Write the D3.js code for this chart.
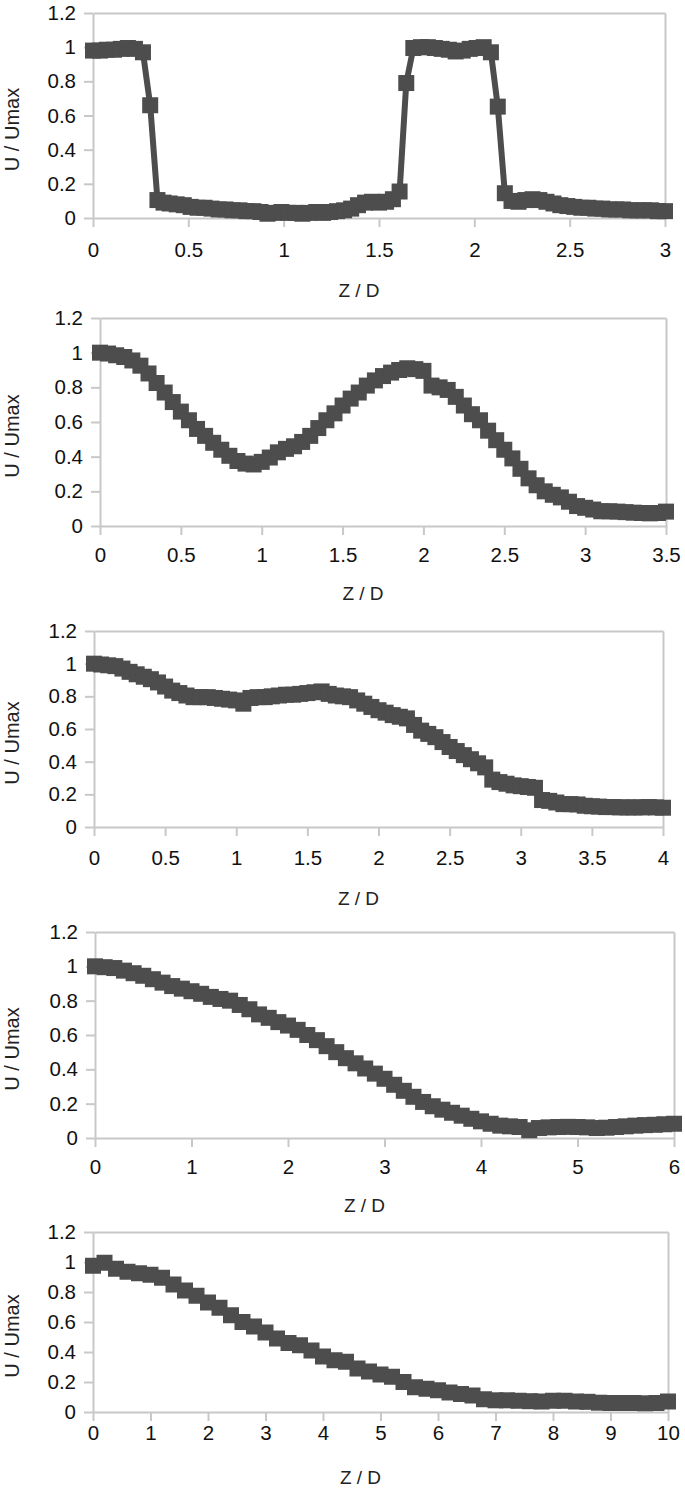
<!DOCTYPE html>
<html>
<head>
<meta charset="utf-8">
<script src="https://cdn.jsdelivr.net/npm/d3@7"></script>
<style>
  body { margin: 0; background: #fff; }
  svg { display: block; }
</style>
</head>
<body>
<div id="chart"></div>
<script>
// Tick labels shared by all five plots
const yTicks = [0, 0.2, 0.4, 0.6, 0.8, 1, 1.2];
const p1Ticks = [0, 0.5, 1, 1.5, 2, 2.5, 3];
const p2Ticks = [0, 0.5, 1, 1.5, 2, 2.5, 3, 3.5];
const p3Ticks = [0, 0.5, 1, 1.5, 2, 2.5, 3, 3.5, 4];
const p4Ticks = [0, 1, 2, 3, 4, 5, 6];
const p5Ticks = [0, 1, 2, 3, 4, 5, 6, 7, 8, 9, 10];

// Plot 1 : Z/D and U/Umax
const p1Z = [0, 0.037, 0.073, 0.110, 0.146, 0.183, 0.220, 0.262, 0.300, 0.338,
  0.370, 0.402, 0.439, 0.476, 0.512, 0.549, 0.585, 0.622, 0.659, 0.695,
  0.732, 0.768, 0.805, 0.841, 0.878, 0.915, 0.951, 0.988, 1.024, 1.061,
  1.098, 1.134, 1.171, 1.207, 1.244, 1.280, 1.317, 1.354, 1.390, 1.427,
  1.463, 1.500, 1.537, 1.573, 1.608, 1.643, 1.680, 1.720, 1.756, 1.793,
  1.829, 1.866, 1.902, 1.939, 1.976, 2.012, 2.049, 2.087, 2.123, 2.160,
  2.195, 2.232, 2.268, 2.305, 2.341, 2.378, 2.415, 2.451, 2.488, 2.524,
  2.561, 2.598, 2.634, 2.671, 2.707, 2.744, 2.780, 2.817, 2.854, 2.890,
  2.927, 2.963, 3.000];
const p1U = [0.98, 0.98, 0.985, 0.985, 0.99, 0.995, 0.99, 0.97, 0.66, 0.105,
  0.09, 0.085, 0.08, 0.075, 0.065, 0.06, 0.06, 0.055, 0.05, 0.05,
  0.045, 0.045, 0.04, 0.04, 0.035, 0.025, 0.03, 0.035, 0.03, 0.03,
  0.025, 0.03, 0.035, 0.03, 0.035, 0.04, 0.045, 0.055, 0.075, 0.09,
  0.095, 0.09, 0.095, 0.11, 0.155, 0.79, 0.995, 1.0, 1.0, 0.995,
  0.99, 0.985, 0.975, 0.98, 0.99, 0.995, 1.0, 0.97, 0.652, 0.145,
  0.1, 0.095, 0.105, 0.11, 0.105, 0.095, 0.085, 0.075, 0.07, 0.065,
  0.06, 0.06, 0.055, 0.055, 0.05, 0.05, 0.05, 0.045, 0.045, 0.045,
  0.045, 0.04, 0.04];

// Plot 2
const p2Z = [0, 0.05, 0.1, 0.15, 0.2, 0.25, 0.3, 0.35, 0.4, 0.45,
  0.5, 0.55, 0.6, 0.65, 0.7, 0.75, 0.8, 0.85, 0.9, 0.95,
  1, 1.05, 1.1, 1.15, 1.2, 1.25, 1.3, 1.35, 1.4, 1.45,
  1.5, 1.55, 1.6, 1.65, 1.7, 1.75, 1.8, 1.85, 1.9, 1.95,
  2, 2.05, 2.1, 2.15, 2.2, 2.25, 2.3, 2.35, 2.4, 2.45,
  2.5, 2.55, 2.6, 2.65, 2.7, 2.75, 2.8, 2.85, 2.9, 2.95,
  3, 3.05, 3.1, 3.15, 3.2, 3.25, 3.3, 3.35, 3.4, 3.45, 3.5];
const p2U = [1.0, 0.995, 0.985, 0.975, 0.955, 0.925, 0.88, 0.825, 0.77, 0.715,
  0.66, 0.61, 0.56, 0.52, 0.48, 0.44, 0.405, 0.375, 0.36, 0.355,
  0.37, 0.395, 0.425, 0.445, 0.46, 0.485, 0.52, 0.565, 0.61, 0.65,
  0.695, 0.735, 0.77, 0.81, 0.84, 0.865, 0.885, 0.9, 0.91, 0.905,
  0.895, 0.81, 0.8, 0.785, 0.745, 0.695, 0.645, 0.61, 0.55, 0.495,
  0.44, 0.39, 0.33, 0.275, 0.235, 0.2, 0.18, 0.165, 0.14, 0.115,
  0.105, 0.095, 0.085, 0.085, 0.083, 0.08, 0.077, 0.075, 0.073, 0.075, 0.083];

// Plot 3
const p3Z = [0, 0.05, 0.1, 0.15, 0.2, 0.25, 0.3, 0.35, 0.4, 0.45,
  0.5, 0.55, 0.6, 0.65, 0.7, 0.75, 0.8, 0.85, 0.9, 0.95,
  1, 1.05, 1.1, 1.15, 1.2, 1.25, 1.3, 1.35, 1.4, 1.45,
  1.5, 1.55, 1.6, 1.65, 1.7, 1.75, 1.8, 1.85, 1.9, 1.95,
  2, 2.05, 2.1, 2.15, 2.2, 2.25, 2.3, 2.35, 2.4, 2.45,
  2.5, 2.55, 2.6, 2.65, 2.7, 2.75, 2.8, 2.85, 2.9, 2.95,
  3, 3.05, 3.1, 3.15, 3.2, 3.25, 3.3, 3.35, 3.4, 3.45,
  3.5, 3.55, 3.6, 3.65, 3.7, 3.75, 3.8, 3.85, 3.9, 3.95, 4];
const p3U = [1.0, 0.995, 0.99, 0.985, 0.97, 0.95, 0.935, 0.92, 0.905, 0.885,
  0.86, 0.835, 0.82, 0.805, 0.795, 0.795, 0.795, 0.79, 0.785, 0.78,
  0.775, 0.755, 0.79, 0.795, 0.795, 0.8, 0.805, 0.81, 0.81, 0.815,
  0.82, 0.825, 0.83, 0.815, 0.805, 0.8, 0.795, 0.775, 0.755, 0.735,
  0.715, 0.7, 0.685, 0.675, 0.665, 0.625, 0.59, 0.57, 0.55, 0.52,
  0.49, 0.465, 0.44, 0.415, 0.39, 0.365, 0.29, 0.275, 0.265, 0.255,
  0.25, 0.245, 0.24, 0.165, 0.16, 0.15, 0.14, 0.14, 0.138, 0.13,
  0.127, 0.125, 0.122, 0.122, 0.12, 0.12, 0.12, 0.12, 0.122, 0.12, 0.118];

// Plot 4
const p4Z = [0, 0.1, 0.2, 0.3, 0.4, 0.5, 0.6, 0.7, 0.8, 0.9,
  1, 1.1, 1.2, 1.3, 1.4, 1.5, 1.6, 1.7, 1.8, 1.9,
  2, 2.1, 2.2, 2.3, 2.4, 2.5, 2.6, 2.7, 2.8, 2.9,
  3, 3.1, 3.2, 3.3, 3.4, 3.5, 3.6, 3.7, 3.8, 3.9,
  4, 4.1, 4.2, 4.3, 4.4, 4.5, 4.6, 4.7, 4.8, 4.9,
  5, 5.1, 5.2, 5.3, 5.4, 5.5, 5.6, 5.7, 5.8, 5.9, 6];
const p4U = [1.0, 0.995, 0.99, 0.975, 0.96, 0.945, 0.925, 0.905, 0.885, 0.87,
  0.855, 0.84, 0.822, 0.81, 0.8, 0.775, 0.75, 0.72, 0.7, 0.675,
  0.655, 0.63, 0.6, 0.57, 0.535, 0.5, 0.465, 0.435, 0.405, 0.375,
  0.345, 0.31, 0.275, 0.24, 0.21, 0.185, 0.165, 0.147, 0.13, 0.112,
  0.097, 0.083, 0.072, 0.068, 0.064, 0.045, 0.058, 0.062, 0.064, 0.065,
  0.064, 0.062, 0.058, 0.06, 0.064, 0.068, 0.072, 0.075, 0.077, 0.08, 0.083];

// Plot 5
const p5Z = [0, 0.2, 0.4, 0.6, 0.8, 1, 1.2, 1.4, 1.6, 1.8,
  2, 2.2, 2.4, 2.6, 2.8, 3, 3.2, 3.4, 3.6, 3.8,
  4, 4.2, 4.4, 4.6, 4.8, 5, 5.2, 5.4, 5.6, 5.8,
  6, 6.2, 6.4, 6.6, 6.8, 7, 7.2, 7.4, 7.6, 7.8,
  8, 8.2, 8.4, 8.6, 8.8, 9, 9.2, 9.4, 9.6, 9.8, 10];
const p5U = [0.975, 0.995, 0.955, 0.935, 0.925, 0.915, 0.895, 0.85, 0.81, 0.775,
  0.73, 0.695, 0.645, 0.6, 0.57, 0.53, 0.49, 0.46, 0.445, 0.41,
  0.37, 0.345, 0.335, 0.29, 0.27, 0.25, 0.235, 0.2, 0.165, 0.155,
  0.145, 0.13, 0.12, 0.11, 0.085, 0.078, 0.078, 0.075, 0.072, 0.07,
  0.075, 0.075, 0.07, 0.068, 0.062, 0.06, 0.06, 0.06, 0.058, 0.06, 0.07];

const width = 685;
const height = 1490;
const ink = "#4d4d4d";
const axisGray = "#c8c8c8";
const font = "'Liberation Sans', Arial, sans-serif";

// where each plot sits on the page
const layout = [
  {left: 93,  right: 665, top: 13,   bottom: 218,  tickDy: 32, titleDy: 72},
  {left: 100, right: 666, top: 318,  bottom: 526,  tickDy: 29, titleDy: 67},
  {left: 94,  right: 663, top: 631,  bottom: 827,  tickDy: 31, titleDy: 71},
  {left: 95,  right: 674, top: 932,  bottom: 1138, tickDy: 29, titleDy: 67},
  {left: 93,  right: 668, top: 1232, bottom: 1412, tickDy: 21, titleDy: 65}
];

const series = [
  {z: p1Z, u: p1U, ticks: p1Ticks},
  {z: p2Z, u: p2U, ticks: p2Ticks},
  {z: p3Z, u: p3U, ticks: p3Ticks},
  {z: p4Z, u: p4U, ticks: p4Ticks},
  {z: p5Z, u: p5U, ticks: p5Ticks}
];

let svg = d3.select("#chart").append("svg")
            .attr("width", width)
            .attr("height", height)

function styleAxis(sel) {
  sel.attr("font-family", font).attr("font-size", 20.5)
  sel.select(".domain").attr("stroke", axisGray).attr("stroke-width", 2)
  sel.selectAll(".tick line").attr("stroke", axisGray).attr("stroke-width", 2)
  sel.selectAll(".tick text").attr("fill", "#111")
}

series.forEach(function(s, i) {
  const L = layout[i];
  const x = d3.scaleLinear().domain([0, d3.max(s.ticks)]).range([L.left, L.right]);
  const y = d3.scaleLinear().domain([0, 1.2]).range([L.bottom, L.top]);
  const g = svg.append("g");

  // top and right frame lines
  g.append("g")
   .attr("transform", "translate(0," + L.top + ")")
   .call(d3.axisTop(x).tickValues([]).tickSizeOuter(0))
   .call(styleAxis)
  g.append("g")
   .attr("transform", "translate(" + L.right + ",0)")
   .call(d3.axisRight(y).tickValues([]).tickSizeOuter(0))
   .call(styleAxis)

  // y axis
  g.append("g")
   .attr("transform", "translate(" + L.left + ",0)")
   .call(d3.axisLeft(y).tickValues(yTicks).tickSize(9).tickSizeOuter(0).tickPadding(8)
          .tickFormat(function(d) { return String(+d.toFixed(1)) }))
   .call(styleAxis)

  // x axis
  const xa = g.append("g")
   .attr("transform", "translate(0," + L.bottom + ")")
   .call(d3.axisBottom(x).tickValues(s.ticks).tickSize(9).tickSizeOuter(0)
          .tickFormat(function(d) { return String(d) }))
   .call(styleAxis)
  xa.selectAll(".tick text").attr("dy", null).attr("y", L.tickDy + 7)

  // axis titles
  g.append("text")
   .attr("x", (L.left + L.right) / 2 - 20)
   .attr("y", L.bottom + L.titleDy + 7)
   .attr("text-anchor", "middle")
   .attr("font-family", font)
   .attr("font-size", 19)
   .attr("fill", "#222")
   .text("Z / D")
  g.append("text")
   .attr("transform", "translate(12," + ((L.top + L.bottom) / 2 + 14) + ") rotate(-90)")
   .attr("text-anchor", "middle")
   .attr("dy", "0.35em")
   .attr("font-family", font)
   .attr("font-size", 20)
   .attr("fill", "#222")
   .text("U / Umax")

  const pts = d3.zip(s.z, s.u);

  // connecting line
  g.append("path")
   .datum(pts)
   .attr("fill", "none")
   .attr("stroke", ink)
   .attr("stroke-width", 6)
   .attr("stroke-linejoin", "round")
   .attr("d", d3.line().x(function(d) { return x(d[0]) }).y(function(d) { return y(d[1]) }))

  // square markers
  const m = 16;
  g.selectAll("rect.pt")
   .data(pts)
   .enter()
   .append("rect")
   .attr("class", "pt")
   .attr("x", function(d) { return x(d[0]) - m / 2 })
   .attr("y", function(d) { return y(d[1]) - m / 2 })
   .attr("width", m)
   .attr("height", m)
   .attr("fill", ink)
});
</script>
</body>
</html>
